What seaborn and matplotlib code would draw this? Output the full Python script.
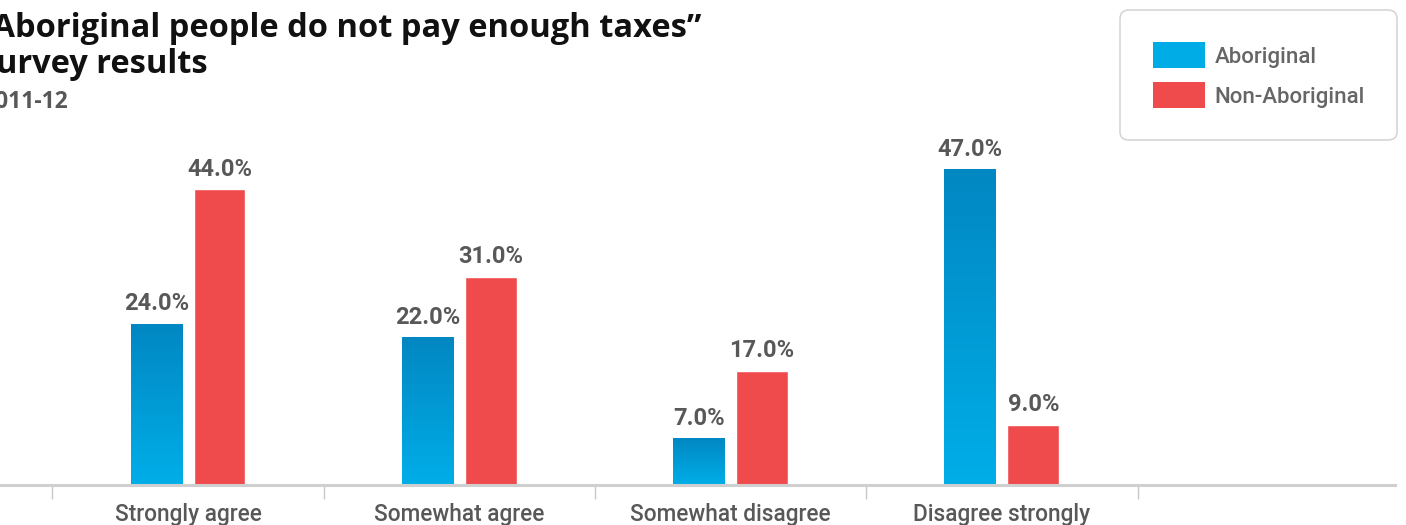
import numpy as np
import pandas as pd
import matplotlib
matplotlib.use("Agg")
import matplotlib.pyplot as plt
import seaborn as sns
from matplotlib.patches import Patch
from matplotlib.colors import LinearSegmentedColormap

# --- data ---
categories = ["Strongly agree", "Somewhat agree", "Somewhat disagree", "Disagree strongly"]
groups = ["Aboriginal", "Non-Aboriginal"]
aboriginal = [24.0, 22.0, 7.0, 47.0]
non_aboriginal = [44.0, 31.0, 17.0, 9.0]

title_lines = ["\u201cAboriginal people do not pay enough taxes\u201d", "Survey results"]
subtitle = "2011-12"

BLUE = "#00ace6"
BLUE_TOP = "#0287c2"
BLUE_BOTTOM = "#00aee8"
RED = "#ef4b4c"
TEXT = "#585858"

df = pd.DataFrame({
    "category": categories * 2,
    "group": [groups[0]] * len(categories) + [groups[1]] * len(categories),
    "value": aboriginal + non_aboriginal,
})

sns.set_theme(style="white")
plt.rcParams["font.family"] = ["Roboto", "DejaVu Sans"]

fig = plt.figure(figsize=(14.06, 5.25), dpi=100)
ax = fig.add_axes([0, 40 / 525, 1395 / 1406, 336 / 525])

sns.barplot(data=df, x="category", y="value", hue="group", order=categories,
            hue_order=groups, palette=[BLUE, RED], saturation=1,
            width=0.464, gap=0.175, legend=False, ax=ax)

# vertical gradient on the Aboriginal bars
cmap = LinearSegmentedColormap.from_list("blu", [BLUE_BOTTOM, BLUE_TOP])
grad = np.linspace(0, 1, 256).reshape(-1, 1)
for bar in ax.containers[0]:
    x0, y0 = bar.get_xy()
    w, h = bar.get_width(), bar.get_height()
    im = ax.imshow(grad, extent=[x0, x0 + w, y0, y0 + h], origin="lower",
                   aspect="auto", cmap=cmap, zorder=bar.get_zorder() + 0.1)
    im.set_clip_path(bar)

for cont in ax.containers:
    ax.bar_label(cont, fmt="%.1f%%", padding=6, fontsize=17, fontweight="bold",
                 color=TEXT)

ax.set_xlim(-0.693, 4.449)
ax.set_ylim(0, 50)
ax.set_yticks([])
ax.set_xlabel("")
ax.set_ylabel("")
for s in ["left", "top", "right"]:
    ax.spines[s].set_visible(False)
ax.spines["bottom"].set_color("#cfcfcf")
ax.spines["bottom"].set_linewidth(2.2)

ax.set_xticks(range(len(categories)))
ax.set_xticklabels(categories, fontsize=16.3, color=TEXT, fontweight="medium")
ax.tick_params(axis="x", which="major", length=0, pad=13)
ax.set_xticks([i - 0.5 for i in range(len(categories) + 1)], minor=True)
ax.tick_params(axis="x", which="minor", length=10, width=1, color="#c8c8c8",
               direction="out", bottom=True)

# title block (clipped at the left edge as in the reference)
title_font = ["Open Sans", "DejaVu Sans"]
fig.text(-22 / 1406, 1 - 37 / 525, title_lines[0], fontsize=23.5, fontweight="bold",
         color="#111111", va="baseline", ha="left", family=title_font)
fig.text(-22 / 1406, 1 - 73 / 525, title_lines[1], fontsize=23.5, fontweight="bold",
         color="#111111", va="baseline", ha="left", family=title_font)
fig.text(-18 / 1406, 1 - 108 / 525, subtitle, fontsize=16.5, fontweight="bold",
         color=TEXT, va="baseline", ha="left", family=title_font)

handles = [Patch(facecolor=BLUE, edgecolor="none"), Patch(facecolor=RED, edgecolor="none")]
leg = fig.legend(handles, groups, loc="upper right",
                 bbox_to_anchor=(1397 / 1406, 1 - 10 / 525), frameon=True,
                 fancybox=True, fontsize=16, handlelength=2.34, handleheight=1.43,
                 handletextpad=0.45, labelspacing=0.62, borderpad=1.45,
                 borderaxespad=0)
for t in leg.get_texts():
    t.set_color("#666666")
    t.set_fontweight("medium")
frame = leg.get_frame()
frame.set_edgecolor("#cccccc")
frame.set_linewidth(1.2)
frame.set_boxstyle("round,pad=0,rounding_size=0.4")

fig.savefig("out.png", dpi=100)
